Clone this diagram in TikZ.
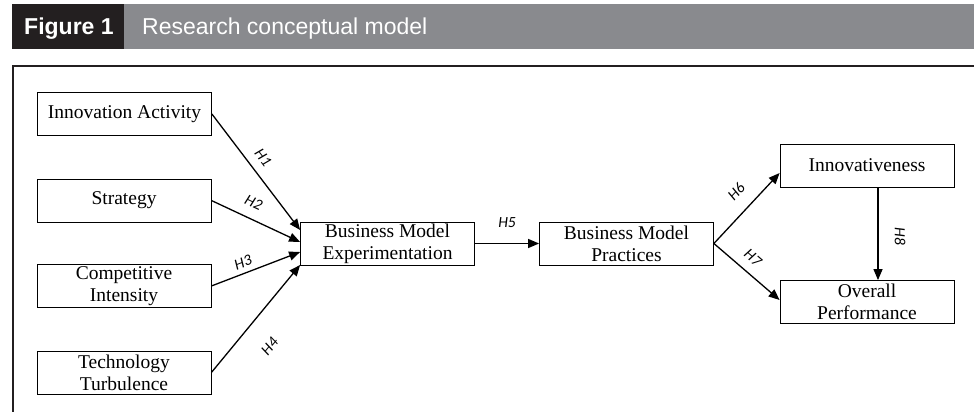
\documentclass[tikz,border=0pt]{standalone}
\usepackage{fontspec}
\setmainfont{Liberation Serif}
\newfontfamily\headfont{Liberation Sans}
\newfontfamily\hypfont{Carlito}
\usetikzlibrary{arrows.meta}
\definecolor{figblack}{HTML}{231F20}
\definecolor{figgray}{HTML}{898A8E}

\begin{document}
\begin{tikzpicture}[x=1pt,y=1pt,
    box/.style={draw, line width=0.8pt, minimum width=174pt, minimum height=43pt,
      inner sep=0pt, align=center, font=\fontsize{19.5}{22}\selectfont},
    hyp/.style={-{Triangle[length=11pt,width=9pt]}, line width=1.3pt},
    hlab/.style={font=\hypfont\itshape\fontsize{15.5}{17}\selectfont, sloped, inner sep=0pt}]
  \useasboundingbox (0,0) rectangle (974,412);

  % draw header bar
  \fill[figblack] (12,408) rectangle (124,363);
  \fill[figgray] (124,408) rectangle (974,363);
  \node[anchor=base west, text=white, inner sep=0pt,
    font=\headfont\bfseries\fontsize{23}{26}\selectfont] (fig) at (24,377) {Figure 1};
  \node[anchor=base west, text=white, inner sep=0pt,
    font=\headfont\fontsize{23}{26}\selectfont] (title) at (142,377) {Research conceptual model};

  % draw frame
  \draw[figblack, line width=2.5pt] (13,0) -- (13,346) -- (974,346);

  % draw boxes
  \node[box] (ia) at (124.5,298) {Innovation Activity};
  \node[box] (st) at (124,211.5) {Strategy};
  \node[box] (ci) at (124,126) {Competitive\\Intensity};
  \node[box] (tt) at (124,39.5) {Technology\\Turbulence};
  \node[box] (bme) at (387.5,168.5) {Business Model\\Experimentation};
  \node[box] (bmp) at (626.5,168.5) {Business Model\\Practices};
  \node[box] (inn) at (867,246.5) {Innovativeness};
  \node[box] (op) at (867,110) {Overall\\Performance};

  % draw hypotheses
  \foreach \src/\dy/\p/\off/\lab in {ia/13.5/.45/9/H1, st/1.5/.40/10.5/H2,
      ci/-8.5/.40/5/H3, tt/-21.5/.41/-34/H4}
    \draw[hyp] (\src.east) -- ([yshift=\dy pt]bme.west) node[hlab, pos=\p, above=\off pt] {\lab};
  \draw[hyp] (bme.east) -- (bmp.west) node[hlab, midway, above=15.5pt] {H5};
  \draw[hyp] (bmp.east) -- ([yshift=-7.5pt]inn.west) node[hlab, pos=.55, above=13pt] {H6};
  \draw[hyp] (bmp.east) -- ([yshift=2pt]op.west) node[hlab, pos=.45, above=9pt] {H7};
  \draw[hyp] ([xshift=11pt]inn.south) -- ([xshift=11pt]op.north)
    node[hlab, sloped=false, pos=.53, xshift=22pt, rotate=-90] {H8};
\end{tikzpicture}
\end{document}
